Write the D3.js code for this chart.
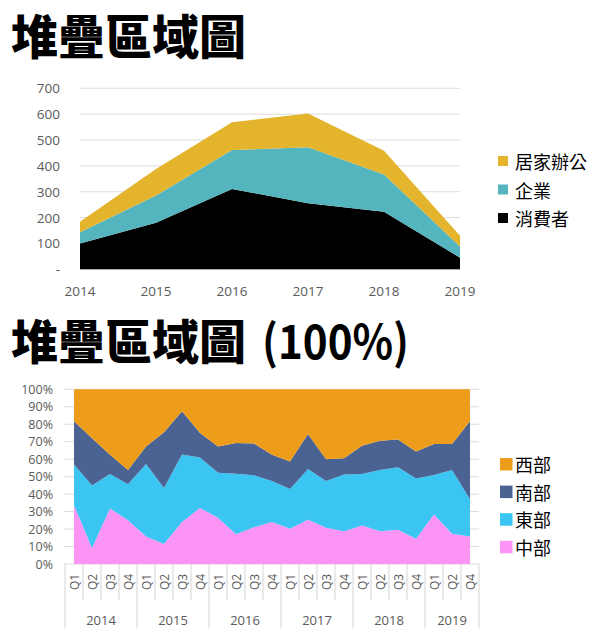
<!DOCTYPE html>
<html><head><meta charset="utf-8">
<script src="https://cdn.jsdelivr.net/npm/d3@7/dist/d3.min.js"></script>
<style>body{margin:0;background:#fff}svg{display:block}</style>
</head><body><svg id="c" width="601" height="633"></svg>
<script>
// ---- Top chart data ----
const years = ["2014","2015","2016","2017","2018","2019"];
const consumer = [100,180,311,255,223,45];
const corporate = [43,105,150,217,144,43];
const homeOffice = [41,103,108,131,91,42];
const topSeries = ["消費者","企業","居家辦公"];
const topColors = ["#000000","#55B5BE","#E4B42C"];
const topTicks = [0,100,200,300,400,500,600,700];

// ---- Bottom chart data ----
const qYears = ["2014","2014","2014","2014","2015","2015","2015","2015","2016","2016","2016","2016","2017","2017","2017","2017","2018","2018","2018","2018","2019","2019","2019"];
const quarters = ["Q1","Q2","Q3","Q4","Q1","Q2","Q3","Q4","Q1","Q2","Q3","Q4","Q1","Q2","Q3","Q4","Q1","Q2","Q3","Q4","Q1","Q2","Q4"];
const central = [33.7,9.2,31.7,25,15.8,11.5,24,32,26.5,17,21,24,20.2,25.4,20.8,18.8,22,18.8,19.6,14.4,28.3,17.3,15.8];
const east = [23.3,35.8,19.8,20.6,41.5,32,38.7,29,25.8,34.7,29.8,23.5,22.8,29,26.7,32.5,29.5,35,35.8,34.6,22.7,36.5,21.2];
const south = [24.7,27,11,8.2,10,31.9,24.8,14,15,17.5,18.2,15,15.7,20,12.5,9.3,16.2,16.8,15.8,15.4,17.7,14.9,44.7];
const west = [18.3,28,37.5,46.2,32.7,24.6,12.5,25,32.7,30.8,31,37.5,41.3,25.6,40,39.4,32.3,29.4,28.8,35.6,31.3,31.3,18.3];
const bottomSeries = ["中部","東部","南部","西部"];
const bottomColors = ["#FB94F4","#3BC5F2","#4A6392","#EE9D1A"];
const pctTicks = [0,10,20,30,40,50,60,70,80,90,100];

const svg = d3.select("#c");
const latin = "'Open Sans', 'Noto Sans', sans-serif";
const cjk = "'Noto Sans CJK TC', 'Noto Sans CJK SC', sans-serif";
const gray = "#5a5a5a";

// Titles
svg.append("text").attr("x",11).attr("y",33).attr("dominant-baseline","central")
  .attr("font-family",cjk).attr("font-weight",900).attr("font-size",47).attr("fill","#000")
  .text("堆疊區域圖");
svg.append("text").attr("x",11).attr("y",338).attr("dominant-baseline","central")
  .attr("font-family",cjk).attr("font-weight",900).attr("font-size",47).attr("fill","#000")
  .text("堆疊區域圖");
svg.append("text").attr("x",262).attr("y",338).attr("dominant-baseline","central")
  .attr("font-family",cjk).attr("font-weight",700).attr("font-size",47).attr("fill","#000")
  .attr("textLength",147).attr("lengthAdjust","spacingAndGlyphs")
  .text("(100%)");

// ---------- Top chart ----------
const topRows = years.map((y,i)=>({year:y,"消費者":consumer[i],"企業":corporate[i],"居家辦公":homeOffice[i]}));
const xT = d3.scalePoint().domain(years).range([80,460]);
const yT = d3.scaleLinear().domain([0,700]).range([269.3,88.3]);
const gT = svg.append("g");
gT.selectAll("line.grid").data(topTicks).join("line")
  .attr("x1",80).attr("x2",460).attr("y1",d=>yT(d)).attr("y2",d=>yT(d))
  .attr("stroke","#dcdcdc").attr("stroke-width",1);
const stT = d3.stack().keys(topSeries)(topRows);
const areaT = d3.area().x(d=>xT(d.data.year)).y0(d=>yT(d[0])).y1(d=>yT(d[1]));
gT.selectAll("path.a").data(stT).join("path").attr("d",areaT)
  .attr("fill",(d,i)=>topColors[i]);
gT.selectAll("text.yl").data(topTicks).join("text")
  .attr("x",60).attr("y",d=>yT(d)).attr("dominant-baseline","central").attr("text-anchor","end")
  .attr("font-family",latin).attr("font-size",13.5).attr("fill",gray)
  .text(d=>d===0?"-":d);
gT.selectAll("text.xl").data(years).join("text")
  .attr("x",d=>xT(d)).attr("y",291).attr("dominant-baseline","central").attr("text-anchor","middle")
  .attr("font-family",latin).attr("font-size",13.5).attr("fill",gray).text(d=>d);
// legend top
const legT = svg.append("g");
[2,1,0].forEach((k,j)=>{
  const cy = 161 + j*28.5;
  legT.append("rect").attr("x",498).attr("y",cy-5).attr("width",10).attr("height",10).attr("fill",topColors[k]);
  legT.append("text").attr("x",515).attr("y",cy).attr("dominant-baseline","central")
    .attr("font-family",cjk).attr("font-size",18).attr("fill","#000").text(topSeries[k]);
});

// ---------- Bottom chart ----------
const idx = d3.range(quarters.length);
const botRows = idx.map(i=>({i,"中部":central[i],"東部":east[i],"南部":south[i],"西部":west[i]}));
const xB = d3.scaleBand().domain(idx).range([65,479]);
const yB = d3.scaleLinear().domain([0,1]).range([564,389.3]);
const gB = svg.append("g");
gB.selectAll("line.grid").data(pctTicks).join("line")
  .attr("x1",64).attr("x2",479).attr("y1",d=>yB(d/100)).attr("y2",d=>yB(d/100))
  .attr("stroke","#dcdcdc").attr("stroke-width",1);
const stB = d3.stack().keys(bottomSeries).offset(d3.stackOffsetExpand)(botRows);
const areaB = d3.area().x(d=>xB(d.data.i)+xB.bandwidth()/2).y0(d=>yB(d[0])).y1(d=>yB(d[1]));
gB.selectAll("path.a").data(stB).join("path").attr("d",areaB)
  .attr("fill",(d,i)=>bottomColors[i]);
gB.selectAll("text.yl").data(pctTicks).join("text")
  .attr("x",53).attr("y",d=>yB(d/100)).attr("dominant-baseline","central").attr("text-anchor","end")
  .attr("font-family",latin).attr("font-size",12.5).attr("fill",gray).text(d=>d+"%");
// x axis: separators
const bounds = idx.map(i=>xB(i)).concat([xB(idx[idx.length-1])+xB.bandwidth()]);
bounds.forEach((bx,j)=>{
  const isYear = j===0 || j===bounds.length-1 || qYears[j]!==qYears[j-1];
  gB.append("line").attr("x1",bx).attr("x2",bx).attr("y1",564).attr("y2",isYear?628:600)
    .attr("stroke","#d4d4d4").attr("stroke-width",1);
});
gB.selectAll("text.q").data(idx).join("text")
  .attr("transform",i=>`translate(${xB(i)+xB.bandwidth()/2},582) rotate(-90)`)
  .attr("text-anchor","middle").attr("dominant-baseline","central")
  .attr("font-family",latin).attr("font-size",12).attr("fill",gray).text(i=>quarters[i]);
const yearGroups = d3.groups(idx, i=>qYears[i]);
yearGroups.forEach(([yr,list])=>{
  const x0 = xB(list[0]), x1 = xB(list[list.length-1])+xB.bandwidth();
  gB.append("text").attr("x",(x0+x1)/2).attr("y",620).attr("text-anchor","middle").attr("dominant-baseline","central")
    .attr("font-family",latin).attr("font-size",13).attr("fill",gray).text(yr);
});
// legend bottom
const legB = svg.append("g");
[3,2,1,0].forEach((k,j)=>{
  const cy = 464 + j*27.6;
  legB.append("rect").attr("x",500).attr("y",cy-6).attr("width",12.5).attr("height",12.5).attr("fill",bottomColors[k]);
  legB.append("text").attr("x",515).attr("y",cy).attr("dominant-baseline","central")
    .attr("font-family",cjk).attr("font-size",18).attr("fill","#000").text(bottomSeries[k]);
});
</script>
</body></html>
